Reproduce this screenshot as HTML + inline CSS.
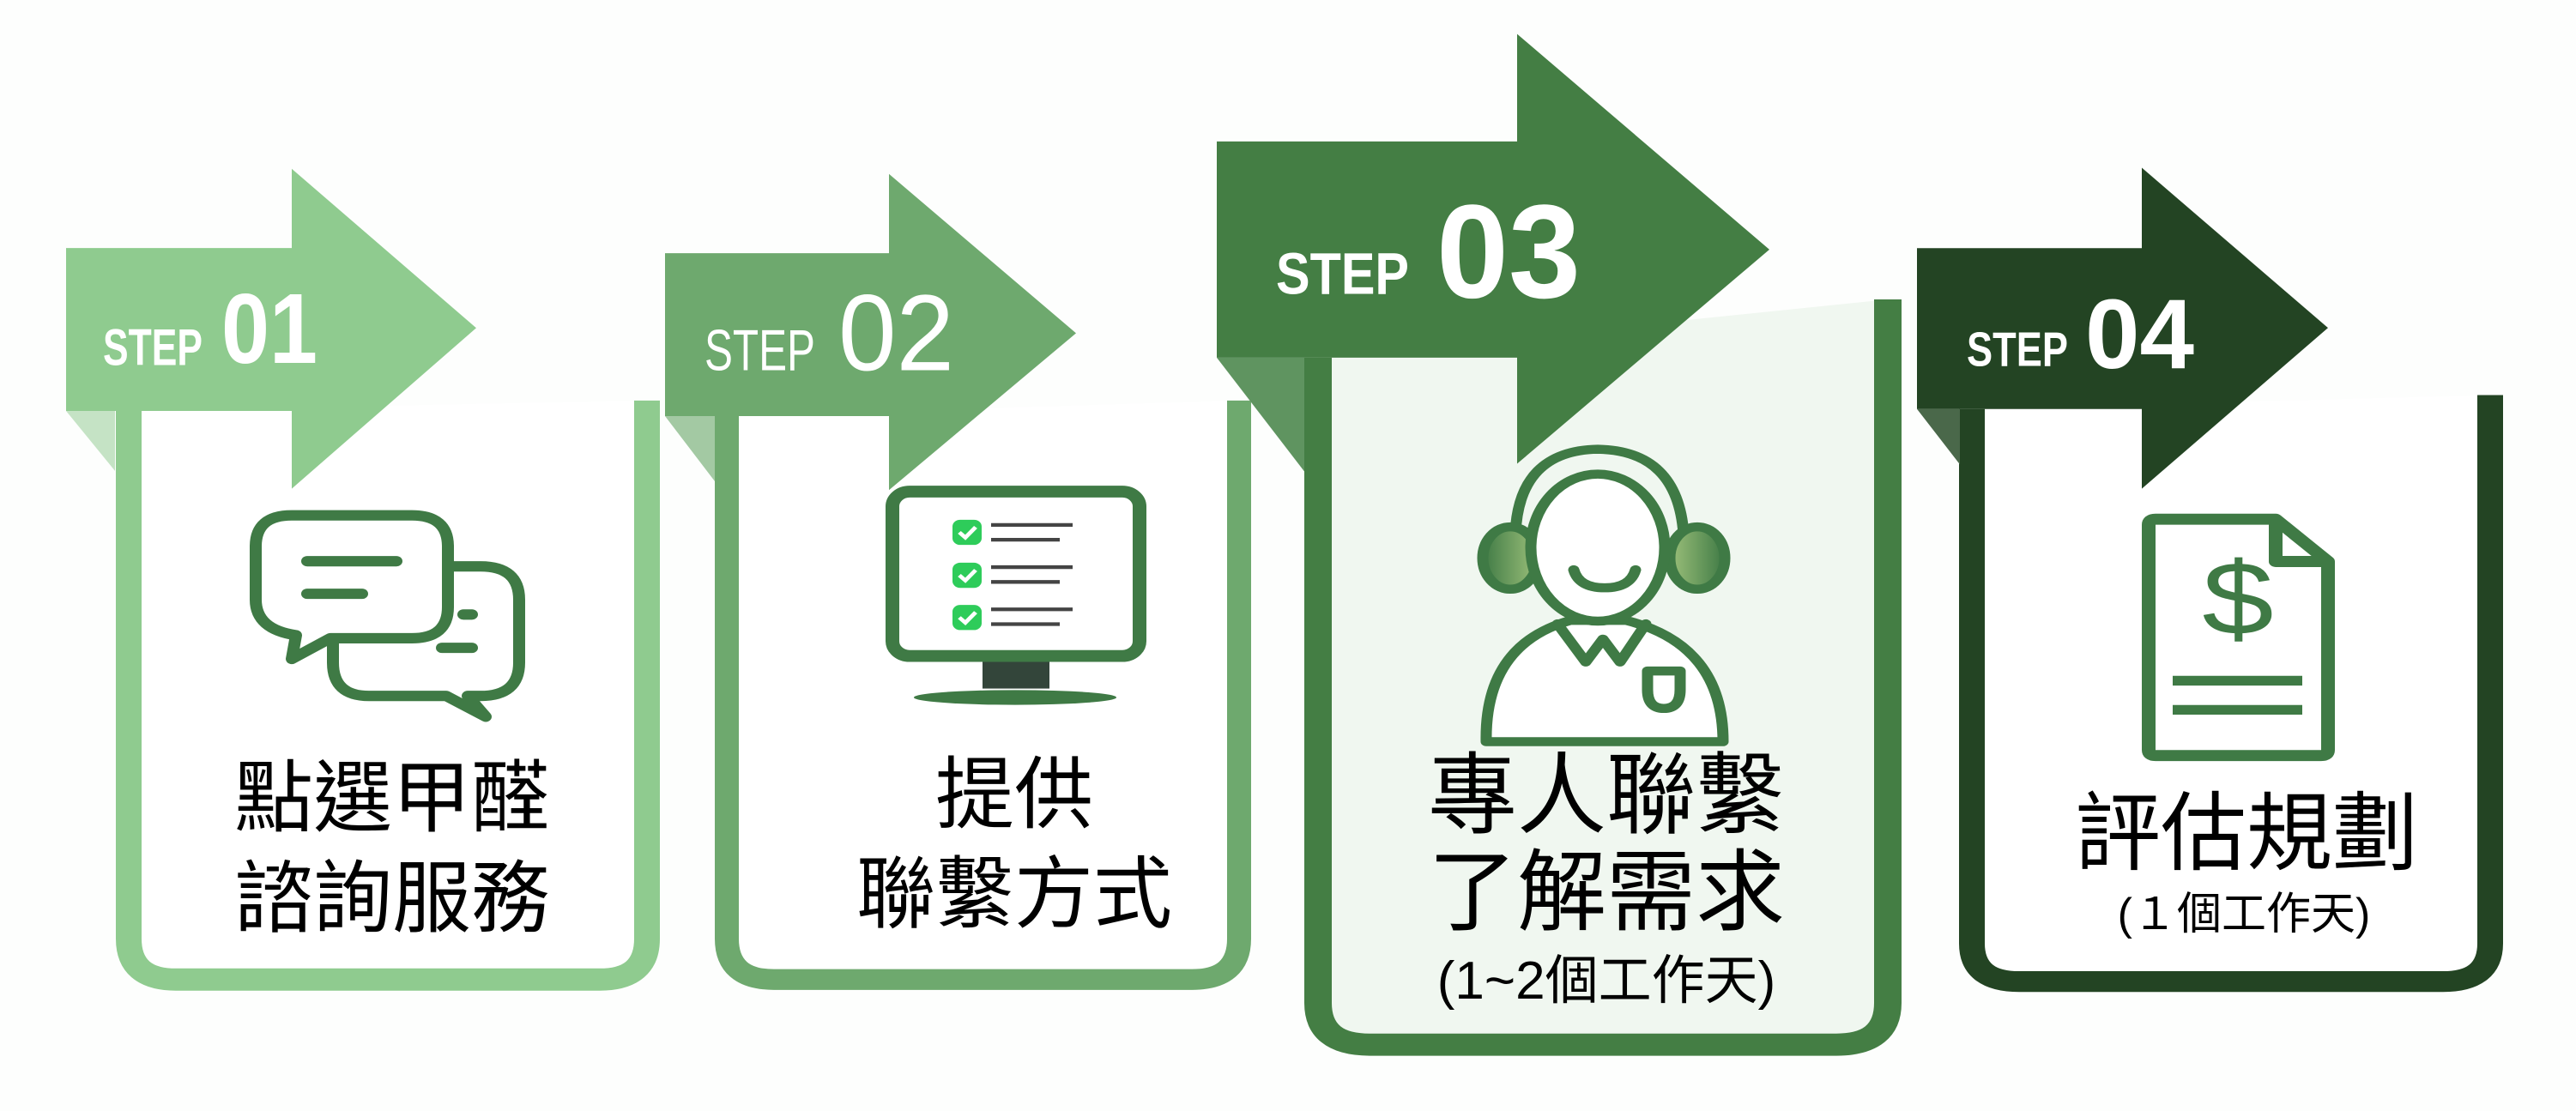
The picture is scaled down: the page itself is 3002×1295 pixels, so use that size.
<!DOCTYPE html>
<html><head><meta charset="utf-8"><style>
html,body{margin:0;padding:0;background:#fdfefd;overflow:hidden;}
svg{display:block;}
.st{font-family:"Liberation Sans",sans-serif;font-weight:bold;fill:#fff;}
.cj{font-family:"Liberation Sans","Noto Sans CJK TC",sans-serif;fill:#000;text-anchor:middle;}
</style></head><body>
<svg width="3002" height="1295" viewBox="0 0 3002 1295" xmlns="http://www.w3.org/2000/svg">
<rect width="3002" height="1295" fill="#fdfefd"/>
<defs><linearGradient id="g1" x1="0" x2="1"><stop offset="0" stop-color="#3f7a45"/><stop offset="1" stop-color="#9cc07a"/></linearGradient>
<linearGradient id="g2" x1="1" x2="0"><stop offset="0" stop-color="#3f7a45"/><stop offset="1" stop-color="#9cc07a"/></linearGradient></defs>

<g transform="matrix(1 0 0 0.863 0 0)">
<!-- CARD 1 -->
<path d="M754 541 V1268 Q754 1323 699 1323 H205 Q150 1323 150 1268 V555" fill="#fff" stroke="#8fcb8f" stroke-width="30"/>
<polygon points="77,555 134,555 134,636" fill="#c5e3c5"/>
<polygon points="77,335 340,335 340,228 555,443 340,660 340,555 77,555" fill="#8fcb8f"/>
<text class="st" x="120" y="493" font-size="70" textLength="116" lengthAdjust="spacingAndGlyphs">STEP</text>
<text class="st" x="258" y="490" font-size="134" textLength="112" lengthAdjust="spacingAndGlyphs">01</text>
<g fill="#fff" stroke="#3f7a45" stroke-width="14" stroke-linejoin="round" stroke-linecap="round">
<path d="M440 765 H560 Q605 765 605 810 V895 Q605 940 560 940 H545 L566 968 L520 940 H430 Q388 940 388 895 V810 Q388 765 440 765 Z"/>
<path d="M340 696 H480 Q522 696 522 738 V820 Q522 862 480 862 H385 L340 890 L345 858 Q298 850 298 810 V738 Q298 696 340 696 Z"/>
<line x1="358" y1="758" x2="462" y2="758"/><line x1="358" y1="802" x2="422" y2="802"/>
<line x1="540" y1="830" x2="550" y2="830"/><line x1="515" y1="875" x2="550" y2="875"/>
</g>

<!-- CARD 2 -->
<path d="M1444 541 V1268 Q1444 1323 1389 1323 H902 Q847 1323 847 1268 V562" fill="#fff" stroke="#6ea96e" stroke-width="28"/>
<polygon points="775,562 833,562 833,650" fill="#a3c9a3"/>
<polygon points="775,342 1036,342 1036,235 1254,450 1036,662 1036,562 775,562" fill="#6ea96e"/>
<text x="821" y="500" font-size="78" font-family="Liberation Sans,sans-serif" fill="#fff" textLength="129" lengthAdjust="spacingAndGlyphs">STEP</text>
<text x="977" y="500" font-size="146" font-family="Liberation Sans,sans-serif" fill="#fff" textLength="135" lengthAdjust="spacingAndGlyphs">02</text>
<rect x="1145" y="890" width="78" height="40" fill="#33453a"/>
<ellipse cx="1183" cy="942" rx="118" ry="10" fill="#3f7a45"/>
<rect x="1040" y="664" width="288" height="222" rx="20" fill="#fff" stroke="#3f7a45" stroke-width="16"/>
<g fill="#2ecc5a"><rect x="1110" y="702" width="34" height="34" rx="9"/><rect x="1110" y="760" width="34" height="34" rx="9"/><rect x="1110" y="817" width="34" height="34" rx="9"/></g>
<g stroke="#fff" stroke-width="5" fill="none"><path d="M1118 719 l7 7 l12 -14"/><path d="M1118 777 l7 7 l12 -14"/><path d="M1118 834 l7 7 l12 -14"/></g>
<g stroke="#444" stroke-width="5"><line x1="1155" y1="709" x2="1250" y2="709"/><line x1="1155" y1="729" x2="1235" y2="729"/><line x1="1155" y1="766" x2="1250" y2="766"/><line x1="1155" y1="786" x2="1235" y2="786"/><line x1="1155" y1="823" x2="1250" y2="823"/><line x1="1155" y1="843" x2="1235" y2="843"/></g>
</g>

<g transform="matrix(1 0 0 0.808 0 0)">
<!-- CARD 3 -->
<path d="M2200 432 V1447 Q2200 1507 2140 1507 H1596 Q1536 1507 1536 1447 V516" fill="#f0f7f0" stroke="#447e44" stroke-width="32"/>
<polygon points="1418,516 1520,516 1520,680" fill="#5f9460"/>
<polygon points="1418,204 1768,204 1768,49 2062,360 1768,669 1768,516 1418,516" fill="#447e44"/>
<text class="st" x="1487" y="424" font-size="85" textLength="155" lengthAdjust="spacingAndGlyphs">STEP</text>
<text class="st" x="1674" y="429" font-size="192" textLength="168" lengthAdjust="spacingAndGlyphs">03</text>
<g stroke="#3f7a45" stroke-width="13" fill="#fff" stroke-linejoin="round" stroke-linecap="round">
<path d="M1766 770 Q1770 650 1862 648 Q1955 650 1962 770" fill="none"/>
<ellipse cx="1760" cy="805" rx="32" ry="45" fill="url(#g1)"/>
<ellipse cx="1978" cy="805" rx="32" ry="45" fill="url(#g2)"/>
<path d="M1732 1070 Q1730 930 1830 895 L1895 895 Q2008 930 2008 1070 Z"/>
<ellipse cx="1862" cy="790" rx="78" ry="106"/>
<path d="M1815 900 L1848 955 L1868 922 L1888 955 L1918 900" fill="none"/>
<path d="M1920 968 H1958 V995 Q1958 1022 1939 1022 Q1920 1022 1920 995 Z"/>
<path d="M1834 822 Q1840 848 1870 848 Q1900 848 1906 822" fill="none"/>
</g>

<!-- CARD 4 -->
<path d="M2902 570 V1361 Q2902 1416 2847 1416 H2353 Q2298 1416 2298 1361 V590" fill="#fff" stroke="#234423" stroke-width="30"/>
<polygon points="2234,590 2284,590 2284,670" fill="#4a684a"/>
<polygon points="2234,358 2496,358 2496,242 2713,473 2496,705 2496,590 2234,590" fill="#234423"/>
<text class="st" x="2292" y="528" font-size="70" textLength="118" lengthAdjust="spacingAndGlyphs">STEP</text>
<text class="st" x="2430" y="531" font-size="142" textLength="127" lengthAdjust="spacingAndGlyphs">04</text>
<g stroke="#3f7a45" stroke-width="16" fill="#fff" stroke-linejoin="round">
<path d="M2512 749 H2652 L2713 810 V1082 Q2713 1090 2705 1090 H2512 Q2504 1090 2504 1082 V757 Q2504 749 2512 749 Z"/>
<path d="M2652 749 V810 H2713" fill="none"/>
</g>
<g stroke="#3f7a45" stroke-width="14"><line x1="2532" y1="982" x2="2683" y2="982"/><line x1="2532" y1="1024" x2="2683" y2="1024"/></g>
<text x="2608" y="915" font-size="150" font-family="Liberation Sans,sans-serif" fill="#3f7a45" text-anchor="middle">$</text>
</g>

<text class="cj" x="457" y="962" font-size="92">點選甲醛</text>
<text class="cj" x="457" y="1079" font-size="92">諮詢服務</text>
<text class="cj" x="1182" y="958" font-size="92">提供</text>
<text class="cj" x="1182" y="1074" font-size="92">聯繫方式</text>
<text class="cj" x="1872" y="963" font-size="104">專人聯繫</text>
<text class="cj" x="1872" y="1076" font-size="104">了解需求</text>
<text class="cj" x="1872" y="1164" font-size="62">(1~2個工作天)</text>
<text class="cj" x="2618" y="1006" font-size="100">評估規劃</text>
<text class="cj" x="2615" y="1083" font-size="52">(１個工作天)</text>
</svg>
</body></html>
